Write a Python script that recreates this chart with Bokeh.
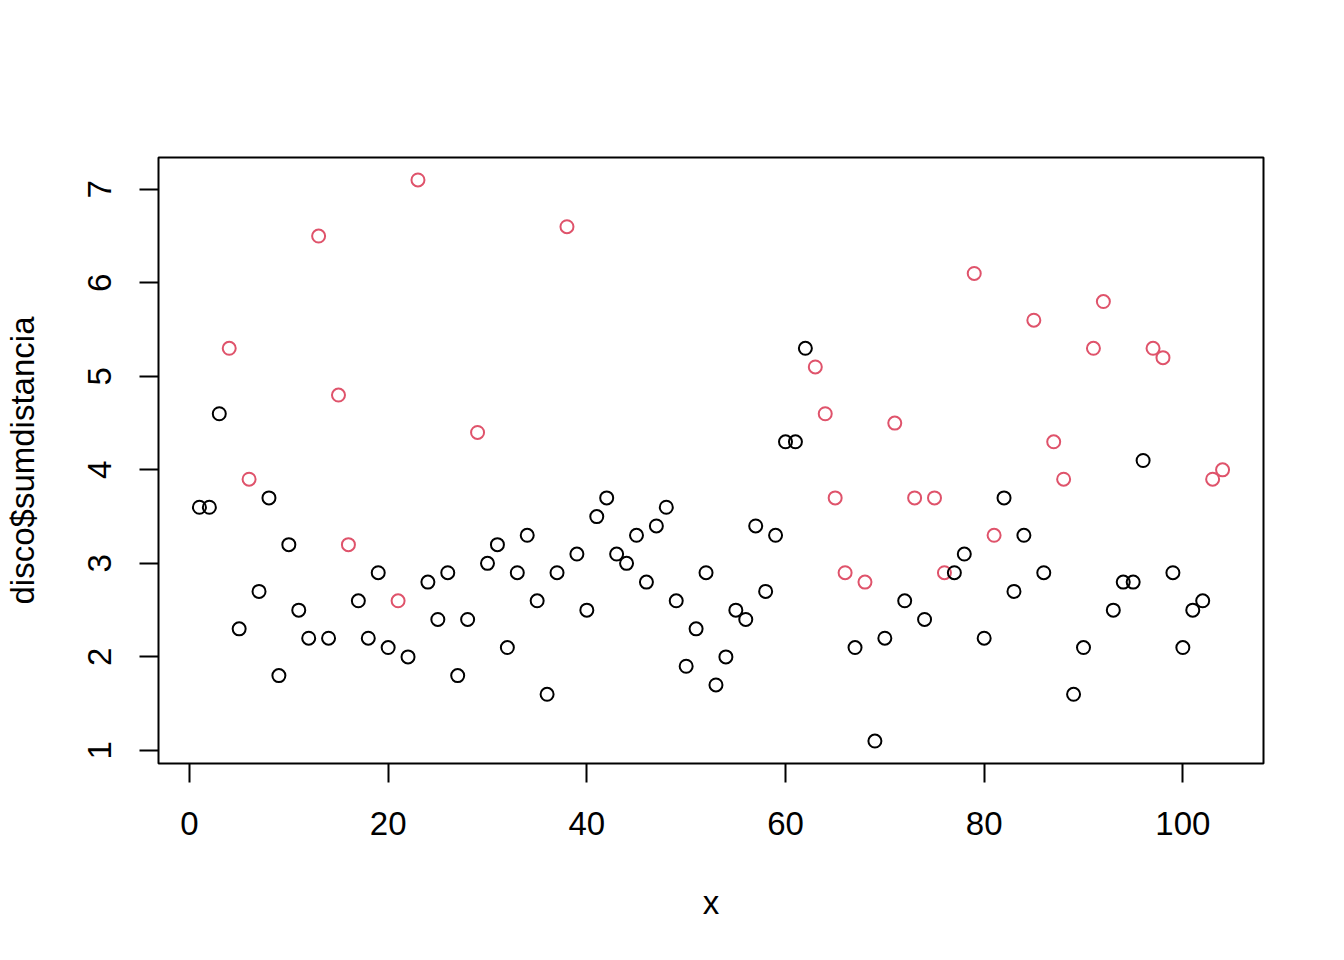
from bokeh.plotting import figure
from bokeh.models import Range1d, FixedTicker, ColumnDataSource
from bokeh.embed import file_html
from bokeh.resources import INLINE

# ---- data ----
idx = list(range(1, 105))
sumdistancia = [3.6, 3.6, 4.6, 5.3, 2.3, 3.9, 2.7, 3.7, 1.8, 3.2,
                2.5, 2.2, 6.5, 2.2, 4.8, 3.2, 2.6, 2.2, 2.9, 2.1,
                2.6, 2.0, 7.1, 2.8, 2.4, 2.9, 1.8, 2.4, 4.4, 3.0,
                3.2, 2.1, 2.9, 3.3, 2.6, 1.6, 2.9, 6.6, 3.1, 2.5,
                3.5, 3.7, 3.1, 3.0, 3.3, 2.8, 3.4, 3.6, 2.6, 1.9,
                2.3, 2.9, 1.7, 2.0, 2.5, 2.4, 3.4, 2.7, 3.3, 4.3,
                4.3, 5.3, 5.1, 4.6, 3.7, 2.9, 2.1, 2.8, 1.1, 2.2,
                4.5, 2.6, 3.7, 2.4, 3.7, 2.9, 2.9, 3.1, 6.1, 2.2,
                3.3, 3.7, 2.7, 3.3, 5.6, 2.9, 4.3, 3.9, 1.6, 2.1,
                5.3, 5.8, 2.5, 2.8, 2.8, 4.1, 5.3, 5.2, 2.9, 2.1,
                2.5, 2.6, 3.9, 4.0]
red_points = [4, 6, 13, 15, 16, 21, 23, 29, 38, 63, 64, 65, 66, 68, 71, 73,
              75, 76, 79, 81, 85, 87, 88, 91, 92, 97, 98, 103, 104]
x_ticks = [0, 20, 40, 60, 80, 100]
y_ticks = [1, 2, 3, 4, 5, 6, 7]

BLACK = "#000000"
RED = "#DF536B"
colors = [RED if i in red_points else BLACK for i in idx]

src = ColumnDataSource(dict(x=idx, y=sumdistancia, c=colors))

FONT = "Liberation Sans"
FS = "33px"

# R-style 4% range extension
xmin, xmax = min(idx), max(idx)
ymin, ymax = min(sumdistancia), max(sumdistancia)
dx = (xmax - xmin) * 0.04
dy = (ymax - ymin) * 0.04

p = figure(width=1336, height=952, output_backend="svg", toolbar_location=None,
           x_range=Range1d(xmin - dx, xmax + dx), y_range=Range1d(ymin - dy, ymax + dy),
           min_border_left=157, min_border_right=73, min_border_top=157, min_border_bottom=189,
           background_fill_color="white", border_fill_color="white")

p.scatter("x", "y", source=src, marker="circle", size=13, fill_color=None,
          line_color="c", line_width=2)

p.xgrid.visible = False
p.ygrid.visible = False
p.outline_line_color = "black"
p.outline_line_width = 2
p.outline_line_alpha = 1

for ax in (p.xaxis[0], p.yaxis[0]):
    ax.axis_line_color = None
    ax.major_tick_in = 0
    ax.major_tick_out = 19
    ax.major_tick_line_width = 2
    ax.major_tick_line_color = "black"
    ax.minor_tick_line_color = None
    ax.major_label_text_font = FONT
    ax.major_label_text_font_size = FS
    ax.major_label_text_color = "black"
    ax.axis_label_text_font = FONT
    ax.axis_label_text_font_size = FS
    ax.axis_label_text_font_style = "normal"
    ax.axis_label_text_color = "black"

p.xaxis[0].ticker = FixedTicker(ticks=x_ticks)
p.yaxis[0].ticker = FixedTicker(ticks=y_ticks)
p.xaxis[0].axis_label = "x"
p.yaxis[0].axis_label = "disco$sumdistancia"
p.yaxis[0].major_label_orientation = "vertical"
p.xaxis[0].major_label_standoff = 29
p.yaxis[0].major_label_standoff = 28
p.xaxis[0].axis_label_standoff = 46
p.yaxis[0].axis_label_standoff = 45

open("out.html", "w").write(file_html(p, INLINE))
